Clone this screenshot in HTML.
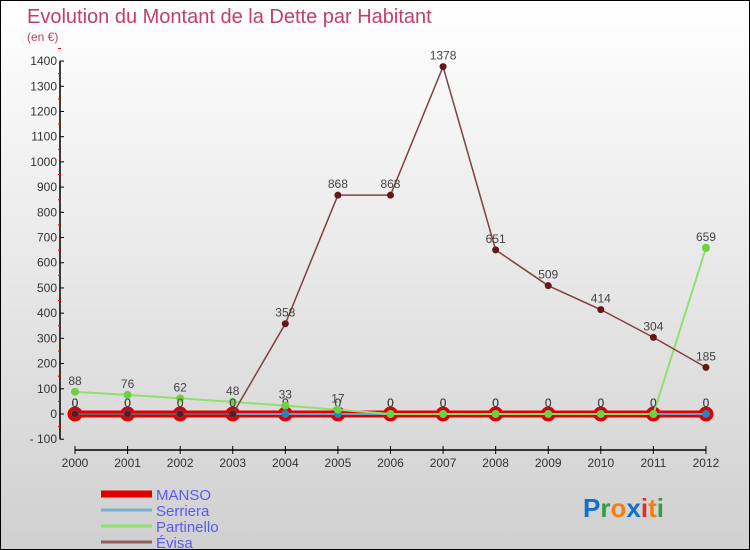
<!DOCTYPE html>
<html><head><meta charset="utf-8"><style>
body{margin:0}
#wrap{position:relative;width:748px;height:548px;border:1px solid #000;background:linear-gradient(#fff,#d0d0d0);font-family:"Liberation Sans",sans-serif;overflow:hidden}
</style></head><body>
<div id="wrap">
<svg id="chart" width="748" height="548"></svg>
</div>
<script>
const years=[2000,2001,2002,2003,2004,2005,2006,2007,2008,2009,2010,2011,2012];
const yTicks=[-100,0,100,200,300,400,500,600,700,800,900,1000,1100,1200,1300,1400];
const manso=[0,0,0,0,0,0,0,0,0,0,0,0,0];
const serriera=[0,0,0,0,0,0,0,0,0,0,0,0,0];
const partinello=[88,76,62,48,33,17,0,0,0,0,0,0,659];
const evisa=[0,0,0,0,358,868,868,1378,651,509,414,304,185];
const NS='http://www.w3.org/2000/svg';
const svg=document.getElementById('chart');
const X=i=>74+i*52.58;
const Y=v=>413-v*0.2521;
function mk(t,a,p){const e=document.createElementNS(NS,t);for(const k in a)e.setAttribute(k,a[k]);(p||svg).appendChild(e);return e;}
let t=mk('text',{x:26,y:22,'font-size':20,fill:'#c0406a'});t.textContent='Evolution du Montant de la Dette par Habitant';

t=mk('text',{x:26,y:40,'font-size':12,fill:'#c0406a'});t.textContent='(en €)';

let ax=mk('line',{x1:59,y1:Y(1400),x2:59,y2:Y(-100),stroke:'#000','stroke-width':1.5});

yTicks.forEach(v=>{mk('line',{x1:59,x2:63,y1:Y(v),y2:Y(v),stroke:'#000'});
 mk('line',{x1:57,x2:60,y1:Y(v+50),y2:Y(v+50),stroke:'#e00'});
 const l=mk('text',{x:56,y:Y(v)+4,'font-size':12,fill:'#333','text-anchor':'end'});l.textContent=v<0?'- '+(-v):v;
 });
ax=mk('line',{x1:X(0),x2:X(12),y1:449,y2:449,stroke:'#000','stroke-width':1.5});

years.forEach((y,i)=>{mk('line',{x1:X(i),x2:X(i),y1:445,y2:453,stroke:'#000'});
 const l=mk('text',{x:X(i),y:466,'font-size':12,fill:'#333','text-anchor':'middle'});l.textContent=y;
 });
function series(d,col,w,name,r,dot){
 const p=mk('polyline',{points:d.map((v,i)=>X(i)+','+Y(v)).join(' '),fill:'none',stroke:col,'stroke-width':w});
 
 d.forEach((v,i)=>{const c=mk('circle',{cx:X(i),cy:Y(v),r:r,fill:dot,stroke:col==='#e00000'?'#e00000':'none','stroke-width':3});
  
  const l=mk('text',{x:X(i),y:Y(v)-7,'font-size':12,fill:'#444','text-anchor':'middle'});l.textContent=v;
  });
}
series(manso,'#e00000',7,'manso',6,'#8b1010');
series(serriera,'#6aa0c8',2,'serriera',4,'#3080c0');
series(partinello,'#90e070',2,'partinello',4,'#70d040');
series(evisa,'#804040',1.5,'evisa',3.5,'#601818');
const leg=[['MANSO','#e00000',7],['Serriera','#7aaed0',3],['Partinello','#90e070',3],['Évisa','#906060',3]];
leg.forEach((e,i)=>{const y=493+i*16;
 const l=mk('line',{x1:100,x2:151,y1:y,y2:y,stroke:e[1],'stroke-width':e[2]});
 
 const t=mk('text',{x:155,y:y+6,'font-size':15,fill:'#5a5af0'});t.textContent=e[0];
 });
const logo=mk('text',{x:582,y:516,'font-size':26,'font-weight':'bold'});

[['P','#1070d0'],['r','#30a040'],['o','#f08010'],['x','#1070d0'],['i','#e03020'],['t','#f08010'],['i','#30a040']].forEach(c=>{const s=mk('tspan',{fill:c[1]},logo);s.textContent=c[0];});
</script>
</body></html>
